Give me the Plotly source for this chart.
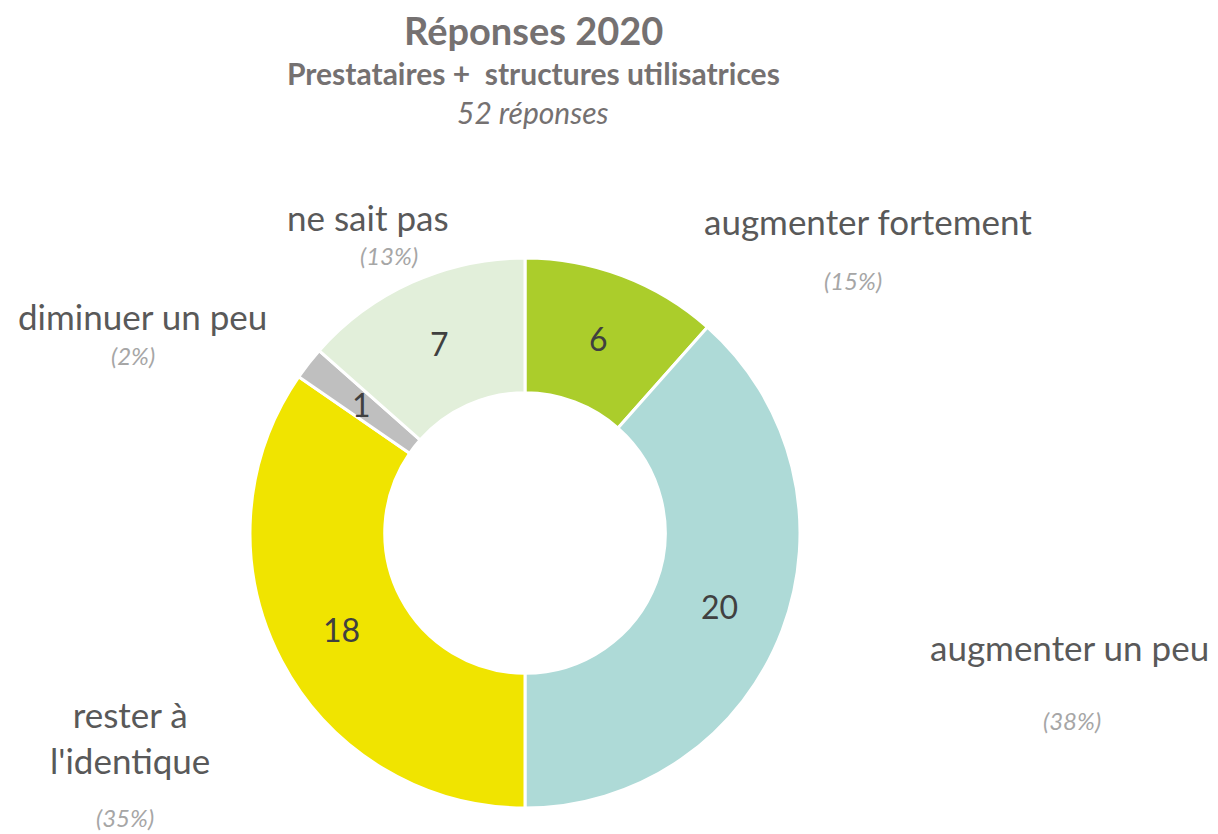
import math
import plotly.graph_objects as go

categories = ["augmenter fortement", "augmenter un peu", "rester à<br>l'identique", "diminuer un peu", "ne sait pas"]
values = [6, 20, 18, 1, 7]
pct_labels = ["(15%)", "(38%)", "(35%)", "(2%)", "(13%)"]
colors = ["#ABCD2B", "#AEDAD7", "#F0E400", "#BFBFBF", "#E2EFDA"]

W, H = 1218, 834
OFF = 8  # page body margin offset
FONT = "Lato"

# pie geometry (pixels, in window coordinates)
cx, cy, R = 525 - OFF, 533 - OFF, 275
HOLE = 0.51


def px(x):
    return (x - OFF) / W


def py(y):
    return 1 - (y - OFF) / H


fig = go.Figure()
fig.add_trace(go.Pie(
    labels=categories,
    values=values,
    sort=False,
    direction="clockwise",
    rotation=0,
    hole=HOLE,
    marker=dict(colors=colors, line=dict(color="white", width=3)),
    textinfo="none",
    showlegend=False,
    hoverinfo="label+value+percent",
    domain=dict(x=[(cx - R) / W, (cx + R) / W], y=[(H - cy - R) / H, (H - cy + R) / H]),
))

annotations = []

# value labels at the middle of each ring segment, derived from the data
total = sum(values)
cum = 0
rmid = R * (1 + HOLE) / 2
for v in values:
    ang = (cum + v / 2) / total * 2 * math.pi
    cum += v
    x = cx + rmid * math.sin(ang)
    y = cy - rmid * math.cos(ang)
    annotations.append(dict(x=x / W, y=1 - y / H, xref="paper", yref="paper", text=str(v),
                            showarrow=False, xanchor="center", yanchor="middle",
                            font=dict(family=FONT, size=32, color="#404040")))

# label positions (window pixels) for outside category labels and percentage notes
label_pos = [(868, 221), (1069, 647), (130, 737), (142, 316), (368, 217)]
pct_pos = [(853, 281), (1072, 720), (125, 817), (133, 355), (389, 256)]

for cat, (x, y) in zip(categories, label_pos):
    annotations.append(dict(x=px(x), y=py(y), xref="paper", yref="paper", text=cat,
                            showarrow=False, xanchor="center", yanchor="middle",
                            font=dict(family=FONT, size=35, color="#595959")))
for p, (x, y) in zip(pct_labels, pct_pos):
    annotations.append(dict(x=px(x), y=py(y), xref="paper", yref="paper", text="<i>" + p + "</i>",
                            showarrow=False, xanchor="center", yanchor="middle",
                            font=dict(family=FONT, size=24, color="#A6A6A6")))

# titles
annotations.append(dict(x=px(533), y=py(30), xref="paper", yref="paper", text="<b>Réponses 2020</b>",
                        showarrow=False, xanchor="center", yanchor="middle",
                        font=dict(family=FONT, size=38, color="#757171")))
annotations.append(dict(x=px(533), y=py(73), xref="paper", yref="paper",
                        text="<b>Prestataires +  structures utilisatrices</b>",
                        showarrow=False, xanchor="center", yanchor="middle",
                        font=dict(family=FONT, size=30, color="#757171")))
annotations.append(dict(x=px(533), y=py(112), xref="paper", yref="paper", text="<i>52 réponses</i>",
                        showarrow=False, xanchor="center", yanchor="middle",
                        font=dict(family=FONT, size=30, color="#757171")))

fig.update_layout(
    width=W, height=H,
    margin=dict(l=0, r=0, t=0, b=0),
    paper_bgcolor="white",
    plot_bgcolor="white",
    annotations=annotations,
)

fig.write_html("out.html")
